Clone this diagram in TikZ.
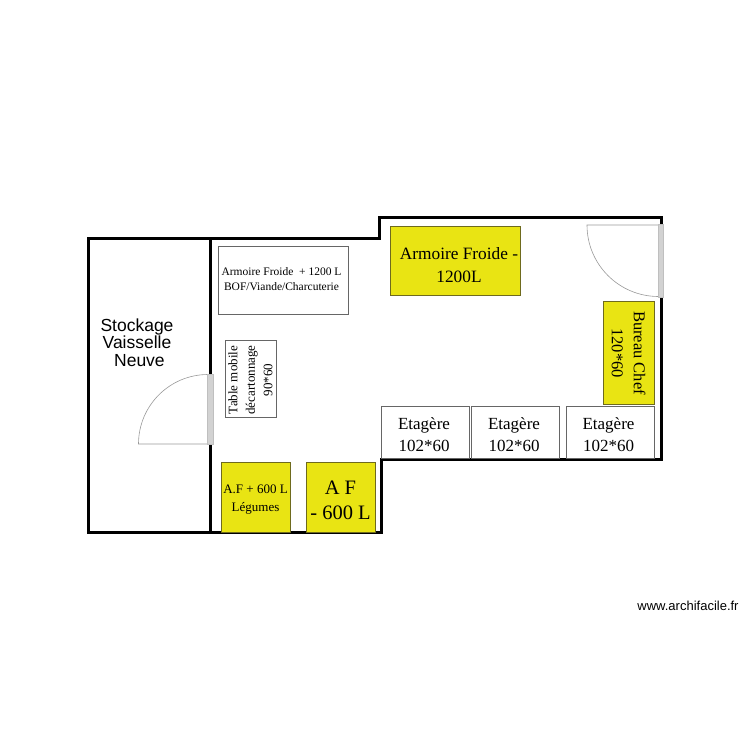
\documentclass[tikz,border=0pt]{standalone}
\usepackage{fontspec}
\setmainfont{Liberation Serif}
\newfontfamily\labelsans{Liberation Sans}
\usepackage{xcolor}
\definecolor{frigo}{HTML}{E9E413}
\definecolor{frigoline}{HTML}{6E6A1E}
\definecolor{doorgray}{HTML}{D2D2D2}
\newcommand{\fs}[2]{\fontsize{#1}{#2}\selectfont}
\tikzset{
  wall/.style = {line width=3pt,line join=miter},
  meuble/.style = {draw=black!60,fill=white,line width=0.9pt,inner sep=0pt,align=center},
  froid/.style = {meuble,draw=frigoline,fill=frigo},
  etiq/.style = {align=center,inner sep=0pt},
  etagere/.style = {meuble,minimum width=88pt,minimum height=52pt},
  doorleaf/.style = {draw=black!40,line width=0.6pt},
  doorbar/.style = {draw=black!25,fill=doorgray,line width=0.5pt},
}

\begin{document}
\begin{tikzpicture}[x=1pt,y=-1pt]
            \useasboundingbox (0,0) rectangle (750,750);

            % murs
            \draw[wall] (88,238) -- (379,238) -- (379,217) -- (661,217) -- (661,459)
                -- (381,459) -- (381,532) -- (88,532) -- cycle;
            \draw[wall] (210,238) -- (210,532);

            % portes
            \draw[doorleaf] (208,374.5) arc[start angle=-90,end angle=-180,radius=69.5] -- (208,444);
            \draw[doorbar] (207.5,374) rectangle (213,444);
            \draw[doorleaf] (658,225) -- (587,225) arc[start angle=180,end angle=90,radius=71.5];
            \draw[doorbar] (658,224) rectangle (663.5,297);

            % meubles
            \node[meuble,minimum width=130pt,minimum height=68pt,
                label={[etiq,font=\fs{11.5}{15},xshift=-2pt,yshift=1pt]center:{Armoire Froide\ \ + 1200 L\\BOF/Viande/Charcuterie}}]
                (armoireblanc) at (283.5,280) {};
            \node[meuble,minimum width=51pt,minimum height=77pt,
                label={[etiq,font=\fs{13}{17.5},yshift=-1.5pt,rotate=90]center:{Table mobile\\décartonnage\\90*60}}]
                (table) at (250.5,378.5) {};
            \node[froid,minimum width=69pt,minimum height=70pt,
                label={[etiq,font=\fs{13}{18},yshift=-3pt]center:{A.F + 600 L\\Légumes}}]
                (af600g) at (255.5,497) {};
            \node[froid,minimum width=69pt,minimum height=70pt,
                label={[etiq,font=\fs{20.5}{25},yshift=-3pt]center:{A F\\- 600 L}}]
                (af600d) at (340.5,497) {};
            \node[froid,minimum width=130pt,minimum height=69pt,
                label={[etiq,font=\fs{17.3}{23},xshift=3.5pt,yshift=-5pt]center:{Armoire Froide -\\1200L}}]
                (armoirejaune) at (455.5,260.5) {};
            \node[froid,font=\fs{16.5}{22},rotate=-90,minimum width=103pt,minimum height=51pt] (bureau) at (628.5,353)
                {Bureau Chef\\120*60};
            \foreach \nom/\posx in {etagere1/425.5,etagere2/515.5,etagere3/610}
                \node[etagere,label={[etiq,font=\fs{17}{22},xshift=-1.5pt,yshift=-2.5pt]center:{Etagère\\102*60}}]
                    (\nom) at (\posx,432) {};

            % textes
            \node[etiq,font=\labelsans\fs{17.5}{17.5}] (stockage) at (137,342.5)
                {Stockage\\Vaisselle\\\ Neuve};
            \node[font=\labelsans\fs{13}{15},inner sep=0pt] (site) at (688,606) {www.archifacile.fr};
        \end{tikzpicture}
\end{document}
